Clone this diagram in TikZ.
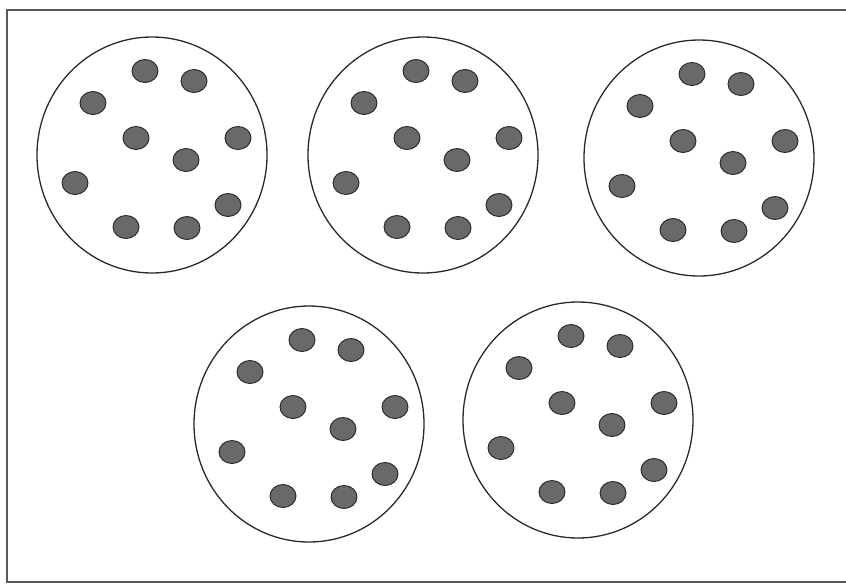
\documentclass[tikz,border=0pt]{standalone}
\usepackage{xcolor}
\usepackage{tikz}
\definecolor{mydark}{RGB}{40,40,40}
\definecolor{mygray}{RGB}{105,105,105}
\definecolor{myframe}{RGB}{90,90,90}
\tikzset{
  frame/.style={draw=myframe, line width=1.6pt},
  cell/.style={draw=mydark, line width=1.1pt},
  dot/.style={draw=mydark, fill=mygray, line width=0.8pt}
}

\begin{document}
\begin{tikzpicture}[x=0.03cm, y=-0.03cm]
  \useasboundingbox (0,0) rectangle (846,584);
  \clip (0,0) rectangle (846,584);
  \draw[frame] (7,10) rectangle (856,582);

  % five cells, same dot pattern in each
  \foreach \cx/\cy in {152/155, 423/155, 699/158, 309/424, 578/420} {
    \draw[cell] (\cx,\cy) ellipse [x radius=115, y radius=118];
    \foreach \dx/\dy in {-7/-84, 42/-74, -59/-52, -16/-17, 86/-17,
                         34/5, -77/28, 76/50, -26/72, 35/73} {
      \draw[dot] (\cx+\dx,\cy+\dy) ellipse [x radius=13, y radius=11.5];
    }
  }
\end{tikzpicture}
\end{document}
